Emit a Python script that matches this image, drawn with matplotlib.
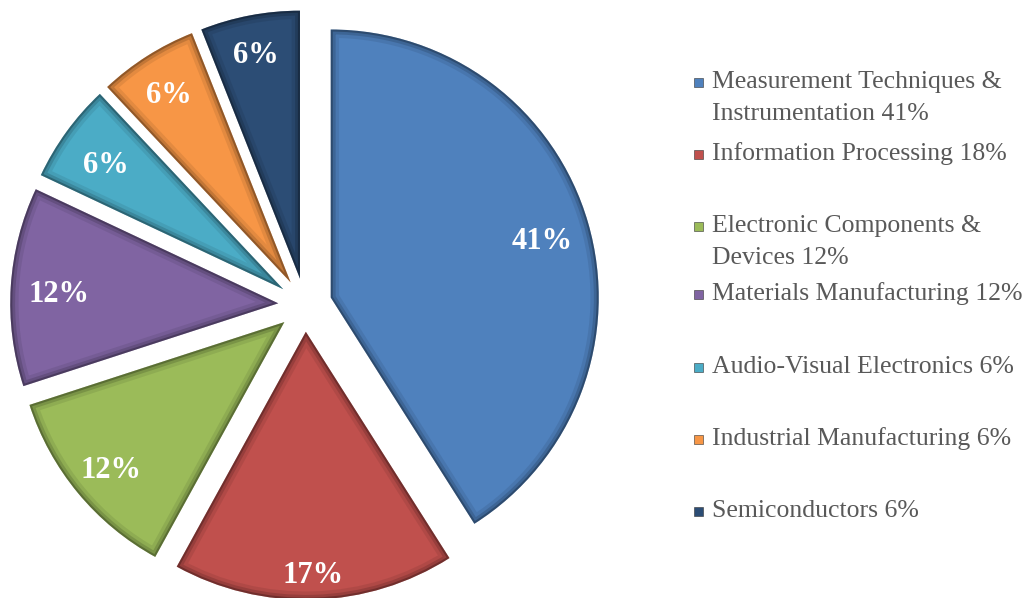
import matplotlib.pyplot as plt
from matplotlib.patches import Wedge, Rectangle
import numpy as np

# share of each field, as printed on the slices
shares = [41, 17, 12, 12, 6, 6, 6]
colors = ['#4F81BD', '#C0504D', '#9BBB59', '#8064A2', '#4BACC6', '#F79646', '#2C4D75']

# legend text, one list entry per line of each item
legend_lines = [
    ['Measurement Techniques &', 'Instrumentation 41%'],
    ['Information Processing 18%'],
    ['Electronic Components &', 'Devices 12%'],
    ['Materials Manufacturing 12%'],
    ['Audio-Visual Electronics 6%'],
    ['Industrial Manufacturing 6%'],
    ['Semiconductors 6%'],
]

W, H = 1032, 598
fig = plt.figure(figsize=(W / 100, H / 100), dpi=100)
ax = fig.add_axes([0, 0, 1, 1])

R = 268.0   # pie radius in pixels
cx, cy = 305, 305   # pie centre, pixels from top-left

wedges, _ = ax.pie(shares, colors=colors, startangle=90, counterclock=False,
                   explode=[0.1] * len(shares), radius=1.0,
                   wedgeprops=dict(linewidth=0))

ax.set_xlim(-cx / R, (W - cx) / R)
ax.set_ylim(-(H - cy) / R, cy / R)
ax.set_aspect('equal')
ax.axis('off')

# soft darker rim inside each slice
for w, c in zip(wedges, colors):
    for lw, a in [(12, 0.08), (7, 0.14), (3, 0.25)]:
        rim = Wedge(w.center, w.r, w.theta1, w.theta2, facecolor='none',
                    edgecolor='black', linewidth=lw, alpha=a)
        ax.add_patch(rim)
        rim.set_clip_path(w)

# percentages inside the slices
label_dist = [0.82, 0.89, 0.84, 0.82, 0.82, 0.85, 0.87]
for w, v, d in zip(wedges, shares, label_dist):
    th = np.deg2rad((w.theta1 + w.theta2) / 2)
    x = w.center[0] + d * np.cos(th)
    y = w.center[1] + d * np.sin(th) - 0.02
    ax.text(x, y, f'{v}%', ha='center', va='center', color='white',
            fontsize=22, fontweight='bold', family='Liberation Serif')

# legend drawn by hand: square marker and one or two text lines
baselines = [88, 160, 232, 300, 373, 445, 517]
line_gap = 32
for lines, c, b in zip(legend_lines, colors, baselines):
    fig.add_artist(Rectangle((694 / W, 1 - (b - 1) / H), 9 / W, 9 / H,
                             transform=fig.transFigure, facecolor=c,
                             edgecolor='#333333', linewidth=0.4))
    for k, s in enumerate(lines):
        fig.text(712 / W, 1 - (b + k * line_gap) / H, s, ha='left', va='baseline',
                 color='#595959', fontsize=18.5, family='Liberation Serif')

fig.savefig('out.png', dpi=100)
